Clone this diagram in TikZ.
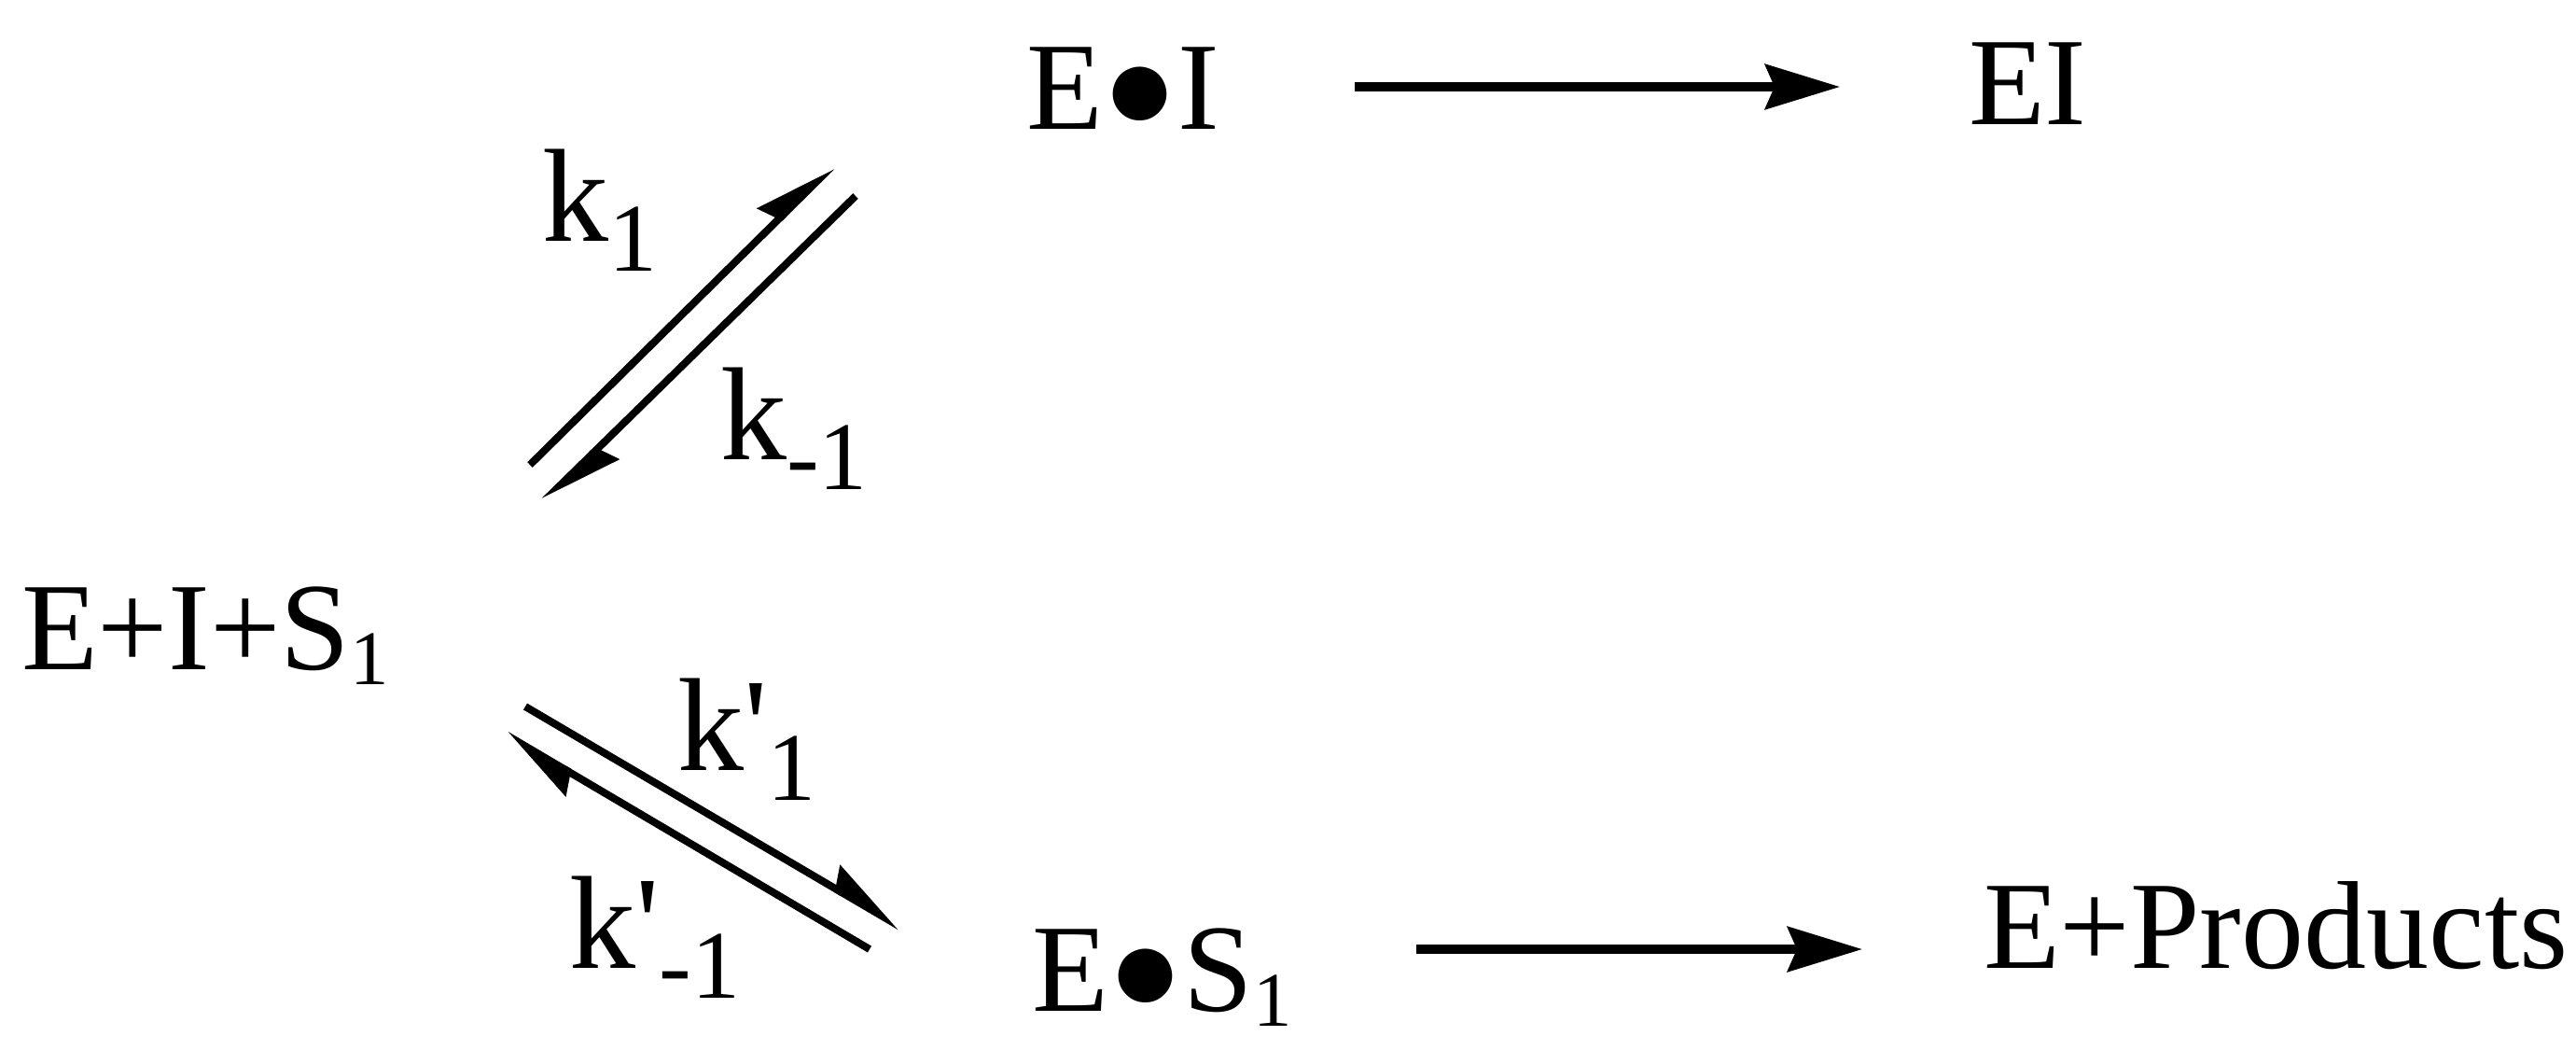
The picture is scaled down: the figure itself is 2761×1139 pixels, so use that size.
\documentclass[tikz,border=0pt]{standalone}
\usepackage{fontspec}
\setmainfont{Liberation Serif}[Ligatures=TeXOff]
\usetikzlibrary{arrows.meta}
\newcommand\subA[1]{\raisebox{-4pt}{\fontsize{20.7}{24}\selectfont #1}}
\newcommand\subK[1]{\raisebox{-8pt}{\fontsize{26}{30}\selectfont #1}}
\begin{document}
\begin{tikzpicture}[x=0.25pt,y=-0.25pt,
  txt/.style={inner sep=0pt,outer sep=0pt,anchor=base west,font=\fontsize{33.5}{40}\selectfont},
  lbl/.style={inner sep=0pt,outer sep=0pt,anchor=base west,font=\fontsize{35.5}{42}\selectfont},
  rxn/.style={line width=2.3pt,-{Stealth[length=20pt,width=12pt,inset=2.5pt]}},
  harp/.style={line width=2pt,-{Stealth[harpoon,length=19pt,width=12pt,inset=2pt]}}]
\useasboundingbox (0,0) rectangle (2761,1139);
% species
\node[txt] (R) at (23,717) {E+I+S\subA{1}};
\node[txt] (EdI) at (1100,138) {E●I};
\node[txt] (EI) at (2110,133) {EI};
\node[txt] (EdS) at (1106,1083) {E●S\subA{1}};
\node[txt] (EP) at (2126,1037) {E+Products};
% rate constants
\node[lbl] (k1) at (581,258) {k\subK{1}};
\node[lbl] (km1) at (772,492) {k\subK{-1}};
\node[lbl] (kp1) at (726,825) {k'\subK{1}};
\node[lbl] (kpm1) at (610,1037) {k'\subK{-1}};
% arrow end points
\coordinate (a1) at (568,498); \coordinate (a2) at (892,178);
\coordinate (b1) at (917,210); \coordinate (b2) at (583,537);
\coordinate (c1) at (563,757); \coordinate (c2) at (965,993);
\coordinate (d1) at (932,1017); \coordinate (d2) at (542,787);
\coordinate (e1) at (1452,93); \coordinate (e2) at (1972,93);
\coordinate (f1) at (1518,1017); \coordinate (f2) at (1996,1017);
% arrows
\draw[harp] (a1) -- (a2);
\draw[harp] (b1) -- (b2);
\draw[harp] (c1) -- (c2);
\draw[harp] (d1) -- (d2);
\draw[rxn] (e1) -- (e2);
\draw[rxn] (f1) -- (f2);
\end{tikzpicture}
\end{document}
